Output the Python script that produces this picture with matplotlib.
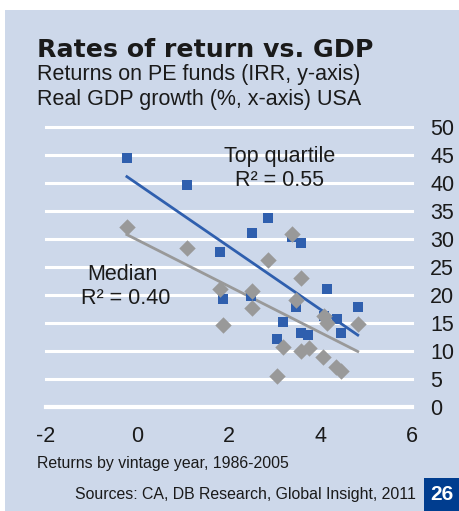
import matplotlib.pyplot as plt
import numpy as np
from matplotlib.patches import Rectangle

plt.rcParams["font.family"] = ["Liberation Sans", "DejaVu Sans"]
plt.rcParams["axes.unicode_minus"] = False

# real GDP growth (%) by vintage year, x-axis
gdp_top = [-0.23, 1.08, 1.80, 1.87, 2.50, 2.85, 3.37, 3.57, 2.48, 3.46,
           3.18, 3.05, 3.57, 3.72, 4.14, 4.07, 4.36, 4.44, 4.81]
irr_top = [44.4, 39.6, 27.6, 19.2, 31.0, 33.7, 30.3, 29.2, 19.7, 17.8,
           15.1, 12.1, 13.1, 12.8, 21.0, 16.2, 15.6, 13.1, 17.8]

gdp_med = [-0.23, 1.08, 1.80, 1.87, 2.50, 2.50, 2.85, 3.37, 3.57, 3.46,
           3.18, 3.57, 3.74, 3.05, 4.07, 4.14, 4.05, 4.33, 4.44, 4.81]
irr_med = [32.1, 28.3, 21.0, 14.6, 20.6, 17.6, 26.2, 30.8, 22.9, 19.0,
           10.6, 9.9, 10.4, 5.5, 16.2, 14.9, 8.8, 7.1, 6.3, 14.7]

xticks = [-2, 0, 2, 4, 6]
yticks = [0, 5, 10, 15, 20, 25, 30, 35, 40, 45, 50]

bg = "#cdd8ea"
blue = "#2f5fae"
grey = "#999999"
txt = "#1a1a1a"

fig = plt.figure(figsize=(4.6, 5.11), dpi=100)
fig.patch.set_facecolor("white")
fig.add_artist(Rectangle((0.011, 0), 0.989, 0.980, transform=fig.transFigure,
                         facecolor=bg, edgecolor="none", zorder=-10))

ax = fig.add_axes([0.0996, 0.2045, 0.7967, 0.5479])
ax.set_facecolor("none")
for s in ax.spines.values():
    s.set_visible(False)
ax.set_xlim(-2, 6)
ax.set_ylim(0, 50)
ax.set_xticks(xticks)
ax.set_yticks(yticks)
ax.yaxis.tick_right()
ax.tick_params(length=0, labelsize=15.5, labelcolor=txt)
ax.tick_params(axis="y", pad=13)
ax.tick_params(axis="x", pad=14)
for y in yticks:
    ax.axhline(y, color="white", lw=2.2 if y else 3, zorder=0, clip_on=False)

# trend lines (least squares) over the data range
for gx, gy, c in [(gdp_med, irr_med, grey), (gdp_top, irr_top, blue)]:
    gx = np.array(gx)
    k, b = np.polyfit(gx, gy, 1)
    xs = np.array([gx.min(), gx.max()])
    ax.plot(xs, k * xs + b, color=c, lw=2, zorder=2)

ax.scatter(gdp_top, irr_top, marker="s", s=62, color=blue, zorder=3, linewidths=0)
ax.scatter(gdp_med, irr_med, marker="D", s=70, color=grey, zorder=4, linewidths=0)

ax.text(3.11, 44.6, "Top quartile", ha="center", va="center", fontsize=15.5, color=txt)
ax.text(3.11, 40.4, "R² = 0.55", ha="center", va="center", fontsize=15.5, color=txt)
ax.text(-0.32, 23.5, "Median", ha="center", va="center", fontsize=15.5, color=txt)
ax.text(-0.25, 19.2, "R² = 0.40", ha="center", va="center", fontsize=15.5, color=txt)

fig.text(0.08, 1 - 57 / 511, "Rates of return vs. GDP", fontsize=18.2,
         fontweight="bold", family="DejaVu Sans", color=txt, va="baseline")
fig.text(0.08, 1 - 80 / 511, "Returns on PE funds (IRR, y-axis)", fontsize=15.5,
         color=txt, va="baseline")
fig.text(0.08, 1 - 105 / 511, "Real GDP growth (%, x-axis) USA", fontsize=15.5,
         color=txt, va="baseline")

fig.text(0.08, 1 - 468 / 511, "Returns by vintage year, 1986-2005", fontsize=11.4,
         color=txt, va="baseline")
fig.text(0.903, 1 - 499 / 511, "Sources: CA, DB Research, Global Insight, 2011",
         fontsize=11.4, color=txt, va="baseline", ha="right")

fig.add_artist(Rectangle((0.9217, 0), 0.0783, 0.0646, transform=fig.transFigure,
                         facecolor="#003d8f", edgecolor="none"))
fig.text(0.961, 0.032, "26", fontsize=15, fontweight="bold", color="white",
         ha="center", va="center")

fig.savefig("out.png", dpi=100)
